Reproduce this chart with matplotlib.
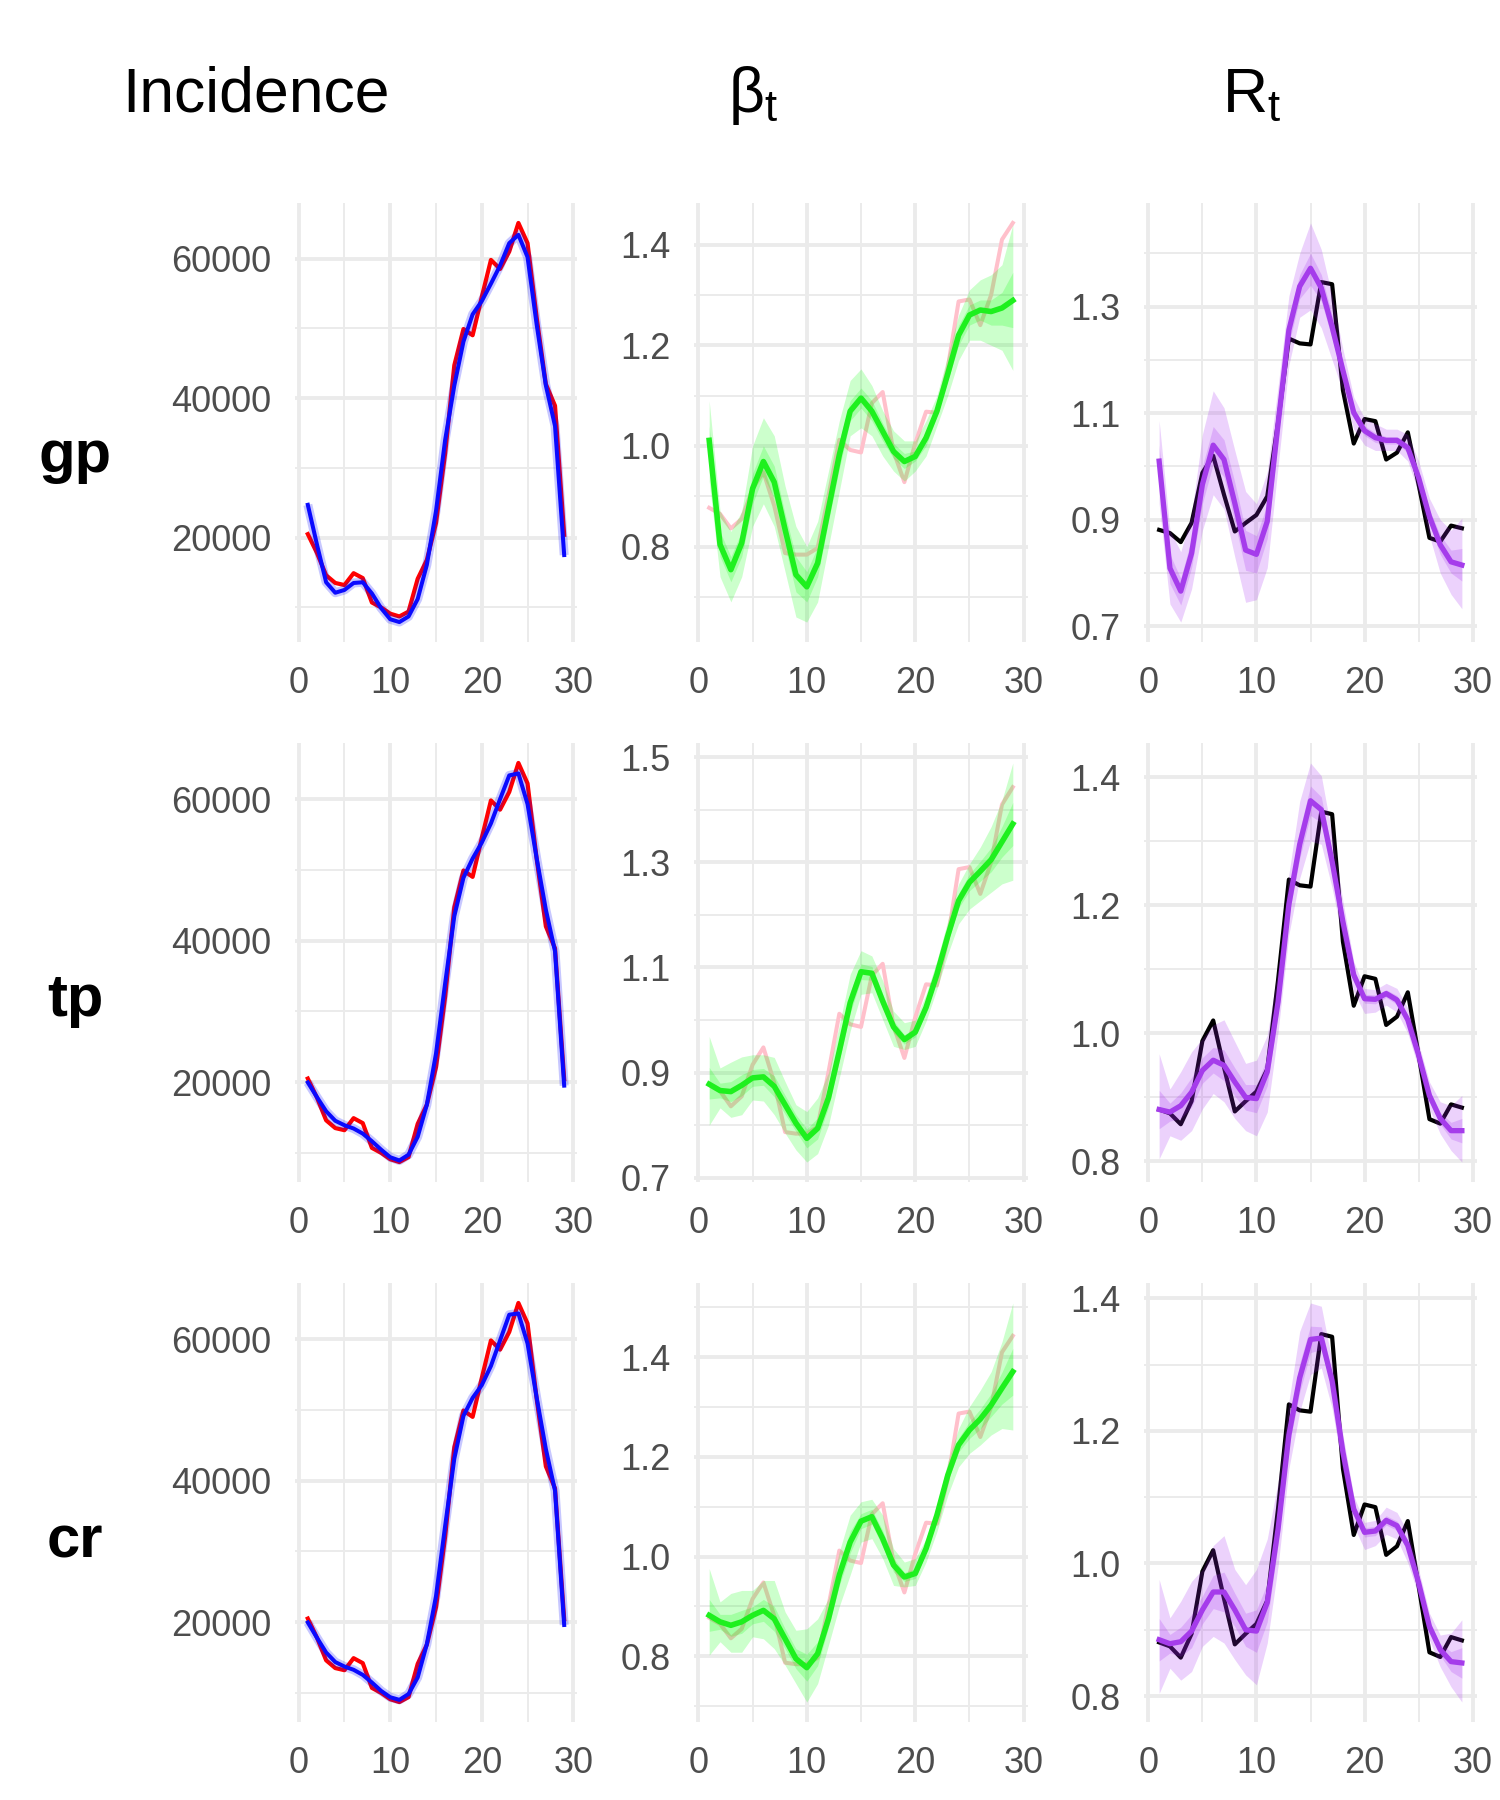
import numpy as np
import matplotlib
matplotlib.use("Agg")
import matplotlib.pyplot as plt
from matplotlib.ticker import FixedLocator

plt.rcParams["font.family"] = ["Liberation Sans", "DejaVu Sans"]

# ---------------------------------------------------------------- data
days = [1, 2, 3, 4, 5, 6, 7, 8, 9, 10, 11, 12, 13, 14, 15,
        16, 17, 18, 19, 20, 21, 22, 23, 24, 25, 26, 27, 28, 29]

methods = ["gp", "tp", "cr"]

# observed incidence (red), same in every row
incidence_obs = [20500, 17800, 14600, 13500, 13200, 14900, 14200, 10700, 10000, 9100,
                 8700, 9400, 14100, 16800, 22100, 32100, 44700, 49900, 49000, 54500,
                 59800, 58500, 61000, 65100, 62200, 51500, 42000, 38900, 20400]

# fitted incidence (blue)
fit_gp = [24700, 19000, 13600, 12100, 12500, 13500, 13600, 12000, 9900, 8300,
          7900, 8700, 11200, 16100, 23800, 34000, 41800, 48100, 52000, 53900,
          56400, 59000, 62200, 63400, 60200, 50500, 41800, 36000, 17500]
fit_tp = [19950, 17870, 15880, 14530, 13900, 13440, 12720, 11640, 10460, 9380,
          8920, 9740, 12270, 16790, 24020, 33960, 43460, 48880, 51590, 53850,
          56560, 60000, 63340, 63620, 59280, 51590, 44360, 38480, 19500]
fit_cr = [19950, 17780, 15700, 14350, 13720, 13260, 12540, 11460, 10280, 9380,
          9010, 9830, 12180, 16880, 23660, 33600, 43100, 49150, 51680, 53490,
          56200, 59820, 63440, 63620, 59370, 51680, 44450, 38570, 19590]

# true beta (pink) and true Rt (black)
beta_true = [0.877, 0.865, 0.836, 0.855, 0.915, 0.948, 0.881, 0.787, 0.784, 0.784,
             0.797, 0.901, 1.012, 0.992, 0.987, 1.085, 1.107, 0.989, 0.928, 1.005,
             1.068, 1.066, 1.155, 1.287, 1.291, 1.240, 1.300, 1.410, 1.443]
rt_true = [0.881, 0.875, 0.858, 0.894, 0.988, 1.020, 0.947, 0.878, 0.894, 0.909,
           0.944, 1.083, 1.240, 1.231, 1.229, 1.346, 1.342, 1.143, 1.043, 1.089,
           1.085, 1.013, 1.026, 1.064, 0.966, 0.866, 0.859, 0.889, 0.884]

# beta estimates: median, 95% and 50% bands
beta_gp = [1.011, 0.804, 0.754, 0.807, 0.915, 0.969, 0.928, 0.834, 0.744, 0.720,
           0.767, 0.875, 0.982, 1.069, 1.095, 1.069, 1.029, 0.989, 0.969, 0.979,
           1.016, 1.069, 1.143, 1.220, 1.260, 1.270, 1.267, 1.274, 1.289]
beta_gp_lo95 = [0.93, 0.74, 0.69, 0.74, 0.84, 0.885, 0.84, 0.75, 0.66, 0.65,
                0.69, 0.80, 0.91, 1.02, 1.036, 1.02, 0.98, 0.95, 0.93, 0.95,
                0.98, 1.04, 1.10, 1.17, 1.21, 1.21, 1.20, 1.19, 1.15]
beta_gp_hi95 = [1.09, 0.871, 0.83, 0.87, 1.00, 1.056, 1.02, 0.92, 0.84, 0.80,
                0.85, 0.95, 1.05, 1.13, 1.153, 1.12, 1.07, 1.03, 1.01, 1.01,
                1.05, 1.10, 1.18, 1.26, 1.31, 1.33, 1.34, 1.36, 1.44]
beta_gp_lo50 = [0.98, 0.78, 0.73, 0.78, 0.885, 0.94, 0.895, 0.80, 0.71, 0.69,
                0.74, 0.85, 0.955, 1.05, 1.075, 1.05, 1.01, 0.975, 0.955, 0.97,
                1.00, 1.06, 1.13, 1.20, 1.24, 1.25, 1.24, 1.24, 1.235]
beta_gp_hi50 = [1.04, 0.83, 0.78, 0.83, 0.945, 1.00, 0.96, 0.865, 0.78, 0.75,
                0.80, 0.90, 1.01, 1.09, 1.115, 1.09, 1.045, 1.005, 0.985, 0.99,
                1.03, 1.08, 1.16, 1.24, 1.28, 1.29, 1.29, 1.305, 1.345]

beta_tp = [0.878, 0.866, 0.864, 0.876, 0.890, 0.892, 0.874, 0.839, 0.804, 0.775,
           0.794, 0.852, 0.941, 1.033, 1.092, 1.089, 1.036, 0.987, 0.963, 0.977,
           1.024, 1.087, 1.160, 1.227, 1.262, 1.283, 1.305, 1.339, 1.373]
beta_tp_lo95 = [0.80, 0.833, 0.815, 0.82, 0.848, 0.846, 0.82, 0.785, 0.753, 0.730,
                0.746, 0.80, 0.89, 0.979, 1.049, 1.052, 1.001, 0.95, 0.944, 0.95,
                0.998, 1.059, 1.125, 1.183, 1.211, 1.227, 1.243, 1.259, 1.266]
beta_tp_hi95 = [0.969, 0.909, 0.92, 0.93, 0.934, 0.934, 0.929, 0.883, 0.839, 0.826,
                0.852, 0.90, 0.99, 1.087, 1.132, 1.122, 1.075, 1.017, 0.995, 1.0,
                1.049, 1.113, 1.189, 1.259, 1.297, 1.329, 1.368, 1.418, 1.489]
beta_tp_lo50 = [0.85, 0.852, 0.845, 0.856, 0.874, 0.876, 0.854, 0.821, 0.788, 0.757,
                0.774, 0.834, 0.923, 1.013, 1.077, 1.076, 1.022, 0.975, 0.954, 0.968,
                1.015, 1.077, 1.148, 1.213, 1.246, 1.264, 1.282, 1.31, 1.332]
beta_tp_hi50 = [0.91, 0.88, 0.883, 0.896, 0.906, 0.908, 0.894, 0.857, 0.82, 0.793,
                0.814, 0.87, 0.959, 1.053, 1.107, 1.102, 1.05, 0.999, 0.972, 0.986,
                1.033, 1.097, 1.172, 1.241, 1.278, 1.302, 1.328, 1.368, 1.414]

beta_cr = [0.882, 0.869, 0.862, 0.869, 0.882, 0.892, 0.875, 0.835, 0.795, 0.777,
           0.805, 0.875, 0.963, 1.029, 1.071, 1.080, 1.036, 0.983, 0.959, 0.966,
           1.016, 1.083, 1.163, 1.224, 1.254, 1.276, 1.304, 1.338, 1.371]
beta_cr_lo95 = [0.802, 0.829, 0.808, 0.808, 0.839, 0.835, 0.815, 0.782, 0.745, 0.708,
                0.745, 0.822, 0.900, 0.963, 1.029, 1.036, 0.996, 0.942, 0.939, 0.942,
                0.989, 1.050, 1.123, 1.180, 1.207, 1.224, 1.244, 1.257, 1.254]
beta_cr_hi95 = [0.976, 0.909, 0.926, 0.932, 0.932, 0.952, 0.952, 0.889, 0.852, 0.855,
                0.875, 0.916, 1.010, 1.083, 1.110, 1.115, 1.083, 1.016, 0.989, 0.996,
                1.036, 1.103, 1.190, 1.257, 1.301, 1.334, 1.371, 1.431, 1.509]
beta_cr_lo50 = [0.85, 0.854, 0.84, 0.846, 0.865, 0.87, 0.85, 0.815, 0.775, 0.75,
                0.781, 0.858, 0.942, 1.007, 1.056, 1.065, 1.02, 0.969, 0.95, 0.956,
                1.007, 1.073, 1.151, 1.21, 1.237, 1.256, 1.281, 1.306, 1.324]
beta_cr_hi50 = [0.914, 0.884, 0.884, 0.892, 0.899, 0.914, 0.90, 0.855, 0.815, 0.804,
                0.829, 0.892, 0.984, 1.051, 1.086, 1.095, 1.052, 0.997, 0.968, 0.976,
                1.025, 1.093, 1.175, 1.238, 1.271, 1.296, 1.327, 1.37, 1.418]

# Rt estimates: median, 95% and 50% bands
rt_gp = [1.010, 0.809, 0.766, 0.837, 0.966, 1.040, 1.013, 0.931, 0.843, 0.835,
         0.897, 1.080, 1.256, 1.338, 1.372, 1.335, 1.262, 1.180, 1.101, 1.067,
         1.054, 1.049, 1.049, 1.035, 0.979, 0.906, 0.853, 0.821, 0.815]
rt_gp_lo95 = [0.93, 0.742, 0.708, 0.77, 0.88, 0.947, 0.92, 0.83, 0.745, 0.75,
              0.81, 1.00, 1.19, 1.28, 1.294, 1.26, 1.20, 1.14, 1.07, 1.04,
              1.03, 1.03, 1.03, 1.01, 0.95, 0.87, 0.80, 0.76, 0.733]
rt_gp_hi95 = [1.086, 0.88, 0.84, 0.91, 1.06, 1.142, 1.11, 1.03, 0.953, 0.93,
              0.99, 1.15, 1.32, 1.40, 1.457, 1.407, 1.32, 1.22, 1.13, 1.09,
              1.08, 1.07, 1.07, 1.06, 1.01, 0.94, 0.90, 0.88, 0.903]
rt_gp_lo50 = [0.98, 0.78, 0.74, 0.81, 0.93, 1.005, 0.98, 0.895, 0.805, 0.80,
              0.865, 1.05, 1.23, 1.315, 1.34, 1.31, 1.24, 1.165, 1.09, 1.058,
              1.045, 1.042, 1.042, 1.026, 0.968, 0.893, 0.835, 0.80, 0.785]
rt_gp_hi50 = [1.04, 0.835, 0.79, 0.865, 1.00, 1.075, 1.05, 0.97, 0.88, 0.87,
              0.93, 1.11, 1.28, 1.36, 1.40, 1.36, 1.285, 1.195, 1.11, 1.076,
              1.063, 1.056, 1.056, 1.044, 0.99, 0.919, 0.871, 0.843, 0.846]

rt_tp = [0.881, 0.877, 0.887, 0.908, 0.942, 0.958, 0.950, 0.924, 0.900, 0.898,
         0.940, 1.049, 1.201, 1.295, 1.363, 1.349, 1.268, 1.174, 1.091, 1.054,
         1.053, 1.062, 1.052, 1.021, 0.966, 0.903, 0.867, 0.848, 0.848]
rt_tp_lo95 = [0.804, 0.84, 0.833, 0.848, 0.882, 0.906, 0.893, 0.867, 0.848, 0.84,
              0.877, 1.002, 1.154, 1.242, 1.30, 1.295, 1.227, 1.143, 1.065, 1.031,
              1.033, 1.044, 1.033, 1.0, 0.945, 0.882, 0.843, 0.817, 0.799]
rt_tp_hi95 = [0.968, 0.913, 0.94, 0.971, 0.992, 1.013, 1.021, 0.987, 0.953, 0.958,
              0.997, 1.101, 1.248, 1.362, 1.422, 1.402, 1.31, 1.206, 1.112, 1.070,
              1.068, 1.078, 1.070, 1.039, 0.984, 0.924, 0.893, 0.887, 0.903]
rt_tp_lo50 = [0.851, 0.863, 0.867, 0.885, 0.922, 0.938, 0.926, 0.902, 0.88, 0.876,
              0.918, 1.031, 1.184, 1.273, 1.34, 1.329, 1.253, 1.162, 1.082, 1.047,
              1.046, 1.056, 1.045, 1.014, 0.959, 0.895, 0.858, 0.835, 0.829]
rt_tp_hi50 = [0.911, 0.891, 0.907, 0.931, 0.962, 0.978, 0.974, 0.946, 0.92, 0.92,
              0.962, 1.067, 1.218, 1.317, 1.386, 1.369, 1.283, 1.186, 1.1, 1.061,
              1.06, 1.068, 1.059, 1.028, 0.973, 0.911, 0.876, 0.861, 0.867]

rt_cr = [0.885, 0.879, 0.882, 0.898, 0.930, 0.957, 0.957, 0.930, 0.900, 0.898,
         0.941, 1.052, 1.194, 1.280, 1.338, 1.340, 1.275, 1.168, 1.082, 1.047,
         1.049, 1.065, 1.057, 1.027, 0.971, 0.905, 0.870, 0.852, 0.850]
rt_cr_lo95 = [0.804, 0.842, 0.824, 0.837, 0.875, 0.890, 0.880, 0.855, 0.832, 0.817,
              0.880, 0.996, 1.143, 1.229, 1.285, 1.295, 1.234, 1.138, 1.057, 1.021,
              1.027, 1.044, 1.037, 1.001, 0.951, 0.885, 0.844, 0.814, 0.791]
rt_cr_hi95 = [0.976, 0.918, 0.943, 0.973, 0.991, 1.027, 1.042, 0.991, 0.968, 0.991,
              1.037, 1.123, 1.244, 1.350, 1.393, 1.388, 1.305, 1.194, 1.102, 1.062,
              1.065, 1.085, 1.077, 1.047, 0.991, 0.925, 0.892, 0.895, 0.915]
rt_cr_lo50 = [0.853, 0.865, 0.86, 0.873, 0.909, 0.932, 0.927, 0.905, 0.875, 0.866,
              0.912, 1.029, 1.176, 1.258, 1.318, 1.323, 1.262, 1.158, 1.074, 1.04,
              1.042, 1.058, 1.05, 1.019, 0.964, 0.898, 0.861, 0.837, 0.827]
rt_cr_hi50 = [0.917, 0.893, 0.904, 0.923, 0.951, 0.982, 0.987, 0.955, 0.925, 0.93,
              0.97, 1.075, 1.212, 1.302, 1.358, 1.357, 1.288, 1.178, 1.09, 1.054,
              1.056, 1.072, 1.064, 1.035, 0.978, 0.912, 0.879, 0.867, 0.873]

# y tick labels per panel
inc_ticks = [20000, 40000, 60000]
beta_ticks = {"gp": [0.8, 1.0, 1.2, 1.4], "tp": [0.7, 0.9, 1.1, 1.3, 1.5], "cr": [0.8, 1.0, 1.2, 1.4]}
rt_ticks = {"gp": [0.7, 0.9, 1.1, 1.3], "tp": [0.8, 1.0, 1.2, 1.4], "cr": [0.8, 1.0, 1.2, 1.4]}
x_ticks = [0, 10, 20, 30]

fits = {"gp": fit_gp, "tp": fit_tp, "cr": fit_cr}
betas = {
    "gp": (beta_gp, beta_gp_lo95, beta_gp_hi95, beta_gp_lo50, beta_gp_hi50),
    "tp": (beta_tp, beta_tp_lo95, beta_tp_hi95, beta_tp_lo50, beta_tp_hi50),
    "cr": (beta_cr, beta_cr_lo95, beta_cr_hi95, beta_cr_lo50, beta_cr_hi50),
}
rts = {
    "gp": (rt_gp, rt_gp_lo95, rt_gp_hi95, rt_gp_lo50, rt_gp_hi50),
    "tp": (rt_tp, rt_tp_lo95, rt_tp_hi95, rt_tp_lo50, rt_tp_hi50),
    "cr": (rt_cr, rt_cr_lo95, rt_cr_hi95, rt_cr_lo50, rt_cr_hi50),
}

# ---------------------------------------------------------------- layout / style
W, H = 1500, 1800
COL_X = [(295, 282), (694, 334), (1144, 333)]        # left px, width px
ROW_Y = [(203, 439), (743, 439), (1283, 439)]        # top px, height px
GRID = "#EBEBEB"
TICK_COLOR = "#4D4D4D"

GREEN = "#00FF00"
GREEN_LINE = "#1EF01E"
PURPLE = "#A020F0"
PURPLE_LINE = "#A53CEB"


def style_axes(ax, yticks, fmt):
    for s in ax.spines.values():
        s.set_visible(False)
    ax.set_axisbelow(True)
    ax.xaxis.set_major_locator(FixedLocator(x_ticks))
    ax.xaxis.set_minor_locator(FixedLocator([5, 15, 25]))
    step = yticks[1] - yticks[0]
    minors = [yticks[0] - step / 2] + [v + step / 2 for v in yticks]
    ax.yaxis.set_major_locator(FixedLocator(yticks))
    ax.yaxis.set_minor_locator(FixedLocator(minors))
    ax.set_yticklabels([fmt(v) for v in yticks])
    ax.set_xticklabels([str(v) for v in x_ticks])
    ax.grid(which="major", color=GRID, linewidth=2.8)
    ax.grid(which="minor", color=GRID, linewidth=1.4)
    ax.tick_params(which="both", length=0, pad=17, labelsize=26, labelcolor=TICK_COLOR)
    ax.margins(x=0.05, y=0.05)


fig = plt.figure(figsize=(W / 100, H / 100), dpi=100)

for r, m in enumerate(methods):
    top, h = ROW_Y[r]
    bottom = 1 - (top + h) / H

    # incidence
    left, w = COL_X[0]
    ax = fig.add_axes([left / W, bottom, w / W, h / H])
    ax.plot(days, incidence_obs, color="#FF0000", linewidth=3.0, zorder=2)
    ax.plot(days, fits[m], color=(0, 0, 1, 0.22), linewidth=6.5, zorder=3,
            solid_capstyle="butt")
    ax.plot(days, fits[m], color="#0A0AFF", linewidth=2.9, zorder=4)
    style_axes(ax, inc_ticks, lambda v: f"{v:d}")

    # beta_t
    left, w = COL_X[1]
    ax = fig.add_axes([left / W, bottom, w / W, h / H])
    med, lo95, hi95, lo50, hi50 = betas[m]
    ax.plot(days, beta_true, color="#FFC0CB", linewidth=2.9, zorder=2)
    ax.fill_between(days, lo95, hi95, color=GREEN, alpha=0.2, linewidth=0, zorder=3)
    ax.fill_between(days, lo50, hi50, color=GREEN, alpha=0.2, linewidth=0, zorder=3)
    ax.plot(days, med, color=GREEN_LINE, linewidth=4.0, zorder=4)
    style_axes(ax, beta_ticks[m], lambda v: f"{v:.1f}")

    # R_t
    left, w = COL_X[2]
    ax = fig.add_axes([left / W, bottom, w / W, h / H])
    med, lo95, hi95, lo50, hi50 = rts[m]
    ax.plot(days, rt_true, color="black", linewidth=3.0, zorder=2)
    ax.fill_between(days, lo95, hi95, color=PURPLE, alpha=0.2, linewidth=0, zorder=3)
    ax.fill_between(days, lo50, hi50, color=PURPLE, alpha=0.2, linewidth=0, zorder=3)
    ax.plot(days, med, color=PURPLE_LINE, linewidth=3.8, zorder=4)
    style_axes(ax, rt_ticks[m], lambda v: f"{v:.1f}")

# column titles
title_y = 1 - 112 / H
fig.text(256 / W, title_y, "Incidence", fontsize=45, ha="center", va="baseline")
fig.text(753 / W, title_y, r"$\mathregular{β_t}$", fontsize=45, ha="center", va="baseline")
fig.text(1252 / W, title_y, r"$\mathregular{R_t}$", fontsize=45, ha="center", va="baseline")

# row labels
for m, base in zip(methods, [472, 1016, 1558]):
    fig.text(75 / W, 1 - base / H, m, fontsize=43, fontweight="bold",
             ha="center", va="baseline")

fig.savefig("out.png", dpi=100, facecolor="white")
